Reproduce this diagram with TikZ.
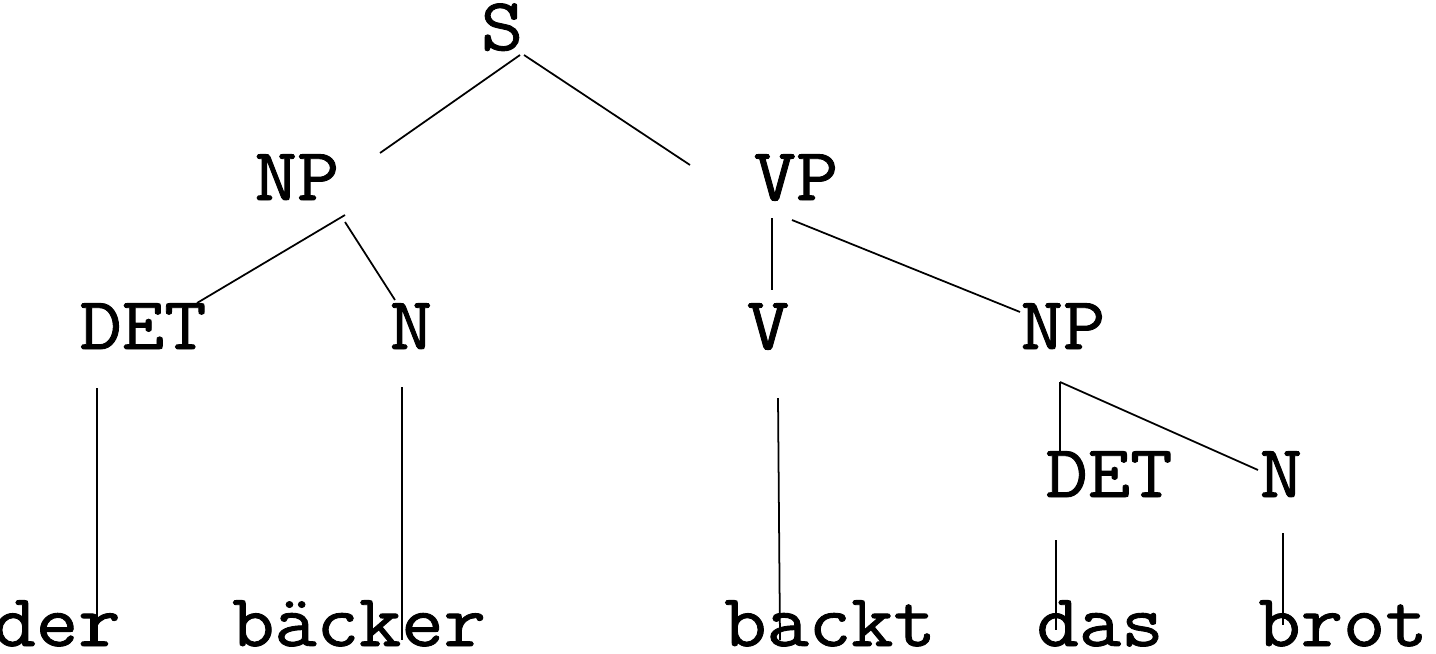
\documentclass[tikz,border=0pt]{standalone}
\usepackage{fontspec}
\newfontfamily\treefont{Latin Modern Mono}[FakeStretch=1.1,FakeBold=1.2]
\begin{document}
\begin{tikzpicture}
                            [x=0.02cm, y=-0.02cm,
                            cat/.style = {anchor=base, inner sep=0pt,
                                        font=\treefont\fontsize{42.5}{42.5}\selectfont},
                            edge/.style = {line width=1pt}]
                            \useasboundingbox (0,0) rectangle (1436,653);
                            % Kategorien
                            \node[cat] (S) at (502,50) {S};
                            \node[cat] (NPa) at (297,200) {NP};
                            \node[cat] (VP) at (796,200) {VP};
                            \node[cat] (DETa) at (143,349) {DET};
                            \node[cat] (Na) at (411,349) {N};
                            \node[cat] (V) at (768,349) {V};
                            \node[cat] (NPb) at (1063,349) {NP};
                            \node[cat] (DETb) at (1109,497) {DET};
                            \node[cat] (Nb) at (1281,497) {N};
                            % Woerter
                            \node[cat] (der) at (57,646) {der};
                            \node[cat] (baecker) at (359,646) {bäcker};
                            \node[cat] (backt) at (830,646) {backt};
                            \node[cat] (das) at (1100,646) {das};
                            \node[cat] (brot) at (1343,646) {brot};
                            % Endpunkte der Kanten
                            \coordinate (S-l) at (520,55);
                            \coordinate (S-r) at (524,55);
                            \coordinate (NPa-t) at (380,153);
                            \coordinate (VP-t) at (690,165);
                            \coordinate (NPa-b) at (345,215);
                            \coordinate (NPa-c) at (345,222);
                            \coordinate (DETa-t) at (197,303);
                            \coordinate (Na-t) at (395,300);
                            \coordinate (DETa-b) at (97,388);
                            \coordinate (der-t) at (97,645);
                            \coordinate (Na-b) at (402,387);
                            \coordinate (baecker-t) at (402,640);
                            \coordinate (VP-b) at (772,218);
                            \coordinate (VP-c) at (792,220);
                            \coordinate (V-t) at (772,290);
                            \coordinate (NPb-t) at (1020,312);
                            \coordinate (V-b) at (778,398);
                            \coordinate (backt-t) at (780,640);
                            \coordinate (NPb-b) at (1060,382);
                            \coordinate (DETb-t) at (1060,455);
                            \coordinate (Nb-t) at (1258,470);
                            \coordinate (DETb-b) at (1056,540);
                            \coordinate (das-t) at (1056,630);
                            \coordinate (Nb-b) at (1283,533);
                            \coordinate (brot-t) at (1283,625);
                            % Kanten
                            \draw[edge] (S-l) -- (NPa-t);
                            \draw[edge] (S-r) -- (VP-t);
                            \draw[edge] (NPa-b) -- (DETa-t);
                            \draw[edge] (NPa-c) -- (Na-t);
                            \draw[edge] (DETa-b) -- (der-t);
                            \draw[edge] (Na-b) -- (baecker-t);
                            \draw[edge] (VP-b) -- (V-t);
                            \draw[edge] (VP-c) -- (NPb-t);
                            \draw[edge] (V-b) -- (backt-t);
                            \draw[edge] (NPb-b) -- (DETb-t);
                            \draw[edge] (NPb-b) -- (Nb-t);
                            \draw[edge] (DETb-b) -- (das-t);
                            \draw[edge] (Nb-b) -- (brot-t);
                        \end{tikzpicture}
\end{document}
